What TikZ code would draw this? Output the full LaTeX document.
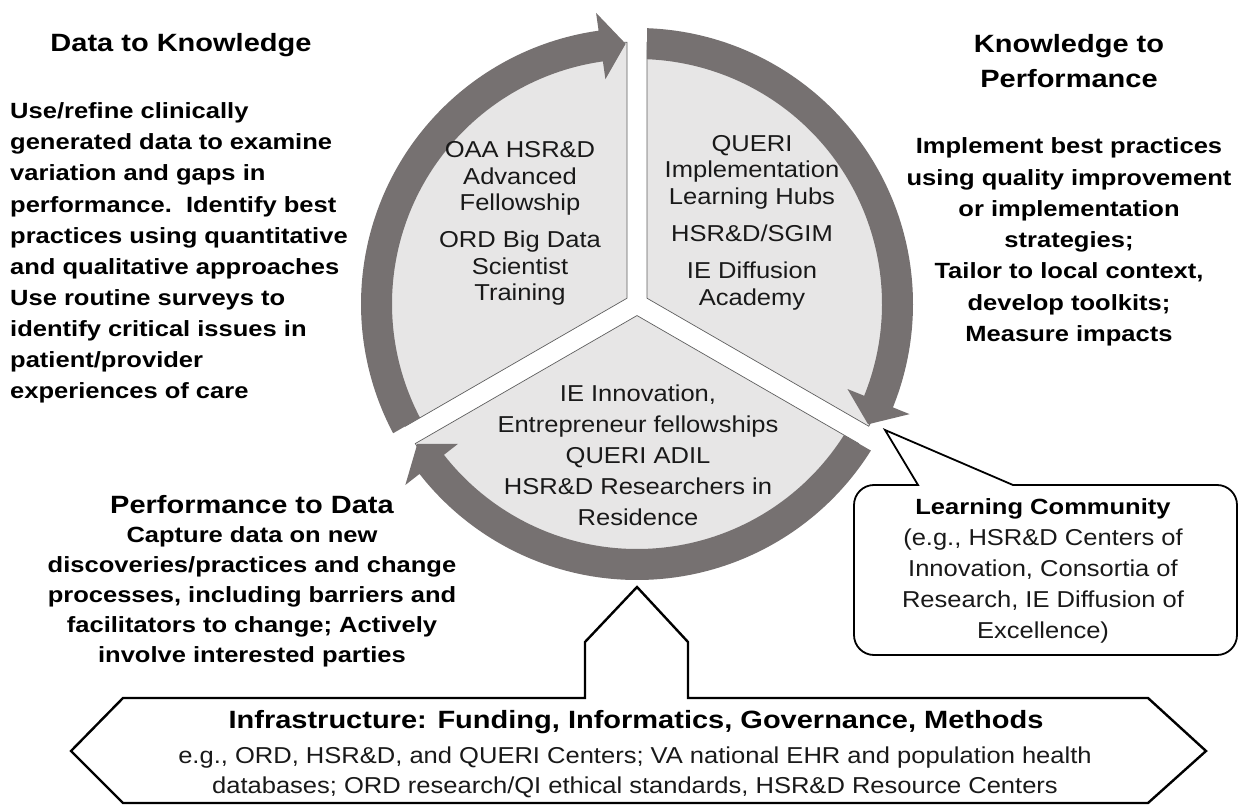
\documentclass[tikz,border=0pt]{standalone}
\usepackage{fontspec}
\setmainfont{Liberation Sans}
\newfontfamily\headfont[FakeStretch=1.16]{Liberation Sans}
\newfontfamily\bodyfont[FakeStretch=1.11]{Liberation Sans}

\definecolor{ringgray}{RGB}{118,113,113}
\definecolor{fillgray}{RGB}{231,230,230}
\definecolor{edgegray}{RGB}{95,95,95}

\begin{document}
\begin{tikzpicture}[x=1pt,y=1pt,
  heading/.style={font=\headfont\bfseries\fontsize{25}{35}\selectfont, align=center, inner sep=0pt},
  boldtext/.style={font=\headfont\bfseries\fontsize{22}{31}\selectfont, inner sep=0pt},
  plaintext/.style={font=\bodyfont\fontsize{23}{26.5}\selectfont, align=center, inner sep=0pt, text=black!90},
  sector/.style={fill=fillgray, draw=edgegray, line width=0.7pt},
  ringarrow/.style={fill=ringgray},
  outline/.style={draw=black, line width=2.4pt, line join=miter, fill=white},
  callout/.style={draw=black, line width=1.8pt, line join=miter, fill=white},
]
\useasboundingbox (0,0) rectangle (1240,-805);

% ---- cycle: three sectors with gaps, each carrying a curved arrow ----
\begin{scope}[shift={(637,-304)}]
  % light sectors (radius 262, gap half-width 10)
  \path[sector] (150:11.55) -- (207.813:262) arc[start angle=207.813, end angle=92.187, radius=262] -- cycle;
  \path[sector] (30:11.55) -- (87.813:262) arc[start angle=87.813, end angle=-27.813, radius=262] -- cycle;
  \path[sector] (270:11.55) -- (-32.187:262) arc[start angle=-32.187, end angle=-147.813, radius=262] -- cycle;

  % curved arrows (outer 276, inner 245, head from 227 to 294)
  \fill[ringarrow] (207.924:276) arc[start angle=207.924, end angle=98, radius=276]
     -- (98:294) -- (92.5:260.5) -- (98:227) -- (98:245)
     arc[start angle=98, end angle=207.661, radius=245] -- cycle;
  \fill[ringarrow] (87.924:276) arc[start angle=87.924, end angle=-22, radius=276]
     -- (-22:294) -- (-27.5:260.5) -- (-22:227) -- (-22:245)
     arc[start angle=-22, end angle=87.661, radius=245] -- cycle;
  \fill[ringarrow] (-32.076:276) arc[start angle=-32.076, end angle=-142, radius=276]
     -- (-142:294) -- (-147.5:260.5) -- (-142:227) -- (-142:245)
     arc[start angle=-142, end angle=-32.339, radius=245] -- cycle;
\end{scope}

% sector labels
\node[plaintext] (lefttxt) at (520,-223.5)
  {OAA HSR\&D\\Advanced\\Fellowship\\[10.5pt]ORD Big Data\\Scientist\\Training};
\node[plaintext] (righttxt) at (752,-222.5)
  {QUERI\\Implementation\\Learning Hubs\\[10.5pt]HSR\&D/SGIM\\[11pt]IE Diffusion\\Academy};
\node[plaintext, font=\bodyfont\fontsize{23}{31}\selectfont] (bottomtxt) at (638,-455.5)
  {IE Innovation,\\Entrepreneur fellowships\\QUERI ADIL\\HSR\&D Researchers in\\Residence};

% ---- Data to Knowledge ----
\node[heading] (dktitle) at (181,-45) {Data to Knowledge};
\node[boldtext, align=left, anchor=west, font=\headfont\bfseries\fontsize{22}{31.1}\selectfont] (dkbody) at (10,-253)
  {Use/refine clinically\\generated data to examine\\variation and gaps in\\performance.\ \ Identify best\\practices using quantitative\\and qualitative approaches\\Use routine surveys to\\identify critical issues in\\patient/provider\\experiences of care};

% ---- Knowledge to Performance ----
\node[heading] (kptitle) at (1069,-61.5) {Knowledge to\\Performance};
\node[boldtext, align=center, font=\headfont\bfseries\fontsize{22}{31.3}\selectfont] (kpbody) at (1069,-242)
  {Implement best practices\\using quality improvement\\or implementation\\strategies;\\Tailor to local context,\\develop toolkits;\\Measure impacts};

% ---- Performance to Data ----
\node[heading] (pdtitle) at (252,-505) {Performance to Data};
\node[boldtext, align=center, font=\headfont\bfseries\fontsize{22}{30}\selectfont] (pdbody) at (252,-597)
  {Capture data on new\\discoveries/practices and change\\processes, including barriers and\\facilitators to change; Actively\\involve interested parties};

% ---- Learning Community callout ----
\coordinate (calltip) at (885,-430);
\path[callout] (918,-485) -- (calltip) -- (1013,-485) -- (1217,-485)
  arc[start angle=90, end angle=0, radius=20] -- (1237,-635)
  arc[start angle=0, end angle=-90, radius=20] -- (874,-655)
  arc[start angle=270, end angle=180, radius=20] -- (854,-505)
  arc[start angle=180, end angle=90, radius=20] -- cycle;
\node[boldtext] (lctitle) at (1043,-509) {Learning Community};
\node[plaintext, font=\bodyfont\fontsize{23}{30.7}\selectfont] (lcbody) at (1043,-586)
  {(e.g., HSR\&D Centers of\\Innovation, Consortia of\\Research, IE Diffusion of\\Excellence)};

% ---- Infrastructure block arrow ----
\path[outline] (123,-698) -- (585,-698) -- (585,-642) -- (637,-587) -- (688,-642)
  -- (688,-698) -- (1148,-698) -- (1206,-751) -- (1148,-803) -- (123,-803)
  -- (71,-751) -- cycle;
\node[heading] (inftitle) at (636,-722) {Infrastructure: Funding, Informatics, Governance, Methods};
\node[plaintext, font=\bodyfont\fontsize{23}{30}\selectfont] (infbody) at (635,-772)
  {e.g., ORD, HSR\&D, and QUERI Centers; VA national EHR and population health\\databases; ORD research/QI ethical standards, HSR\&D Resource Centers};
\end{tikzpicture}
\end{document}
